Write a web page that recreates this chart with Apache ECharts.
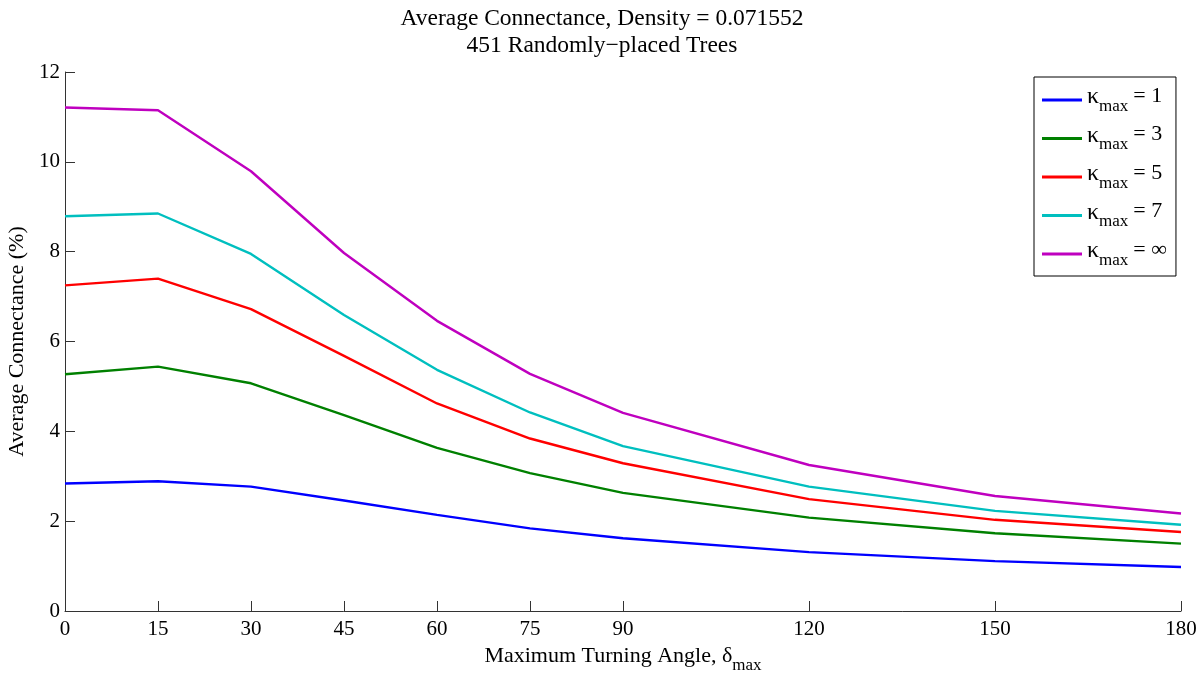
<!DOCTYPE html>
<html>
<head>
<meta charset="utf-8">
<title>Average Connectance</title>
<script src="https://cdn.jsdelivr.net/npm/echarts@6/dist/echarts.min.js"></script>
<style>
  html, body { margin: 0; padding: 0; background: #fff; }
  #chart { width: 1204px; height: 673px; }
</style>
</head>
<body>
<div id="chart"></div>
<script>
// turning angle (degrees) and tick labels
var angles = [0, 15, 30, 45, 60, 75, 90, 120, 150, 180];
var xTicks = [0, 15, 30, 45, 60, 75, 90, 120, 150, 180];
var kappaValues = ['1', '3', '5', '7', '∞'];

// average connectance (%) for each kappa_max
var kappa1 = [2.84, 2.89, 2.77, 2.46, 2.14, 1.84, 1.62, 1.31, 1.11, 0.98];
var kappa3 = [5.27, 5.44, 5.07, 4.36, 3.63, 3.07, 2.63, 2.08, 1.73, 1.50];
var kappa5 = [7.25, 7.40, 6.72, 5.68, 4.62, 3.84, 3.29, 2.49, 2.03, 1.76];
var kappa7 = [8.79, 8.85, 7.95, 6.59, 5.37, 4.42, 3.67, 2.77, 2.23, 1.92];
var kappaInf = [11.21, 11.15, 9.79, 7.97, 6.46, 5.28, 4.41, 3.25, 2.56, 2.17];

var seriesData = [kappa1, kappa3, kappa5, kappa7, kappaInf];
var colors = ['#0000ff', '#008000', '#ff0000', '#00bfbf', '#bf00bf'];
var serif = '"Liberation Serif", "DejaVu Serif", serif';

var chart = echarts.init(document.getElementById('chart'));

var series = [];
for (var i = 0; i < seriesData.length; i++) {
    var pts = [];
    for (var j = 0; j < angles.length; j++) {
        pts.push([angles[j], seriesData[i][j]]);
    }
    series.push({
        name: 'κmax = ' + kappaValues[i],
        type: 'line',
        data: pts,
        showSymbol: false,
        lineStyle: { color: colors[i], width: 2.4 },
        itemStyle: { color: colors[i] },
        animation: false
    });
}

var option = {
    title: {
        text: 'Average Connectance, Density = 0.071552\n451 Randomly\u2212placed Trees',
        left: 'center',
        top: 0,
        textStyle: {
            fontFamily: serif,
            fontSize: 23.5,
            fontWeight: 'normal',
            color: '#000',
            lineHeight: 27
        }
    },
    legend: {
        orient: 'vertical',
        left: 1034,
        top: 77,
        padding: [8, 9, 7, 8],
        itemGap: 8.5,
        itemWidth: 40,
        itemHeight: 3,
        icon: 'rect',
        borderColor: '#000',
        borderWidth: 1,
        borderRadius: 0,
        backgroundColor: '#fff',
        data: series.map(function (s) { return s.name; }),
        formatter: function (name) {
            return '{k|κ}{s|max}{e|= ' + name.split('= ')[1] + '}';
        },
        textStyle: {
            fontFamily: serif,
            color: '#000',
            rich: {
                k: { fontFamily: serif, fontSize: 24, verticalAlign: 'top' },
                s: { fontFamily: serif, fontSize: 17, verticalAlign: 'top', padding: [13, 0, 0, 0] },
                e: { fontFamily: serif, fontSize: 22, verticalAlign: 'top', padding: [0, 0, 0, 5] }
            }
        }
    },
    grid: {
        left: 65,
        right: 23,
        top: 72,
        bottom: 62,
        containLabel: false,
        outerBoundsMode: 'none'
    },
    xAxis: {
        type: 'value',
        min: 0,
        max: 180,
        name: '{a|Maximum Turning Angle, δ}{s|max}',
        nameLocation: 'middle',
        nameGap: 34,
        nameTextStyle: {
            verticalAlign: 'top',
            rich: {
                a: { fontFamily: serif, fontSize: 22, color: '#000', verticalAlign: 'top' },
                s: { fontFamily: serif, fontSize: 17, color: '#000', verticalAlign: 'top', padding: [12, 0, 0, 0] }
            }
        },
        splitLine: { show: false },
        axisLine: { lineStyle: { color: '#333', width: 1 } },
        axisTick: { inside: true, length: 10, customValues: xTicks, lineStyle: { color: '#333' } },
        axisLabel: {
            customValues: xTicks,
            fontFamily: serif,
            fontSize: 21,
            color: '#000',
            margin: 8
        }
    },
    yAxis: {
        type: 'value',
        min: 0,
        max: 12,
        interval: 2,
        name: 'Average Connectance (%)',
        nameLocation: 'middle',
        nameGap: 31,
        nameTextStyle: { fontFamily: serif, fontSize: 22, color: '#000' },
        splitLine: { show: false },
        axisLine: { show: true, lineStyle: { color: '#333', width: 1 } },
        axisTick: { show: true, inside: true, length: 10, lineStyle: { color: '#333' } },
        axisLabel: {
            fontFamily: serif,
            fontSize: 21,
            color: '#000',
            margin: 5
        }
    },
    series: series
};

chart.setOption(option);
</script>
</body>
</html>
